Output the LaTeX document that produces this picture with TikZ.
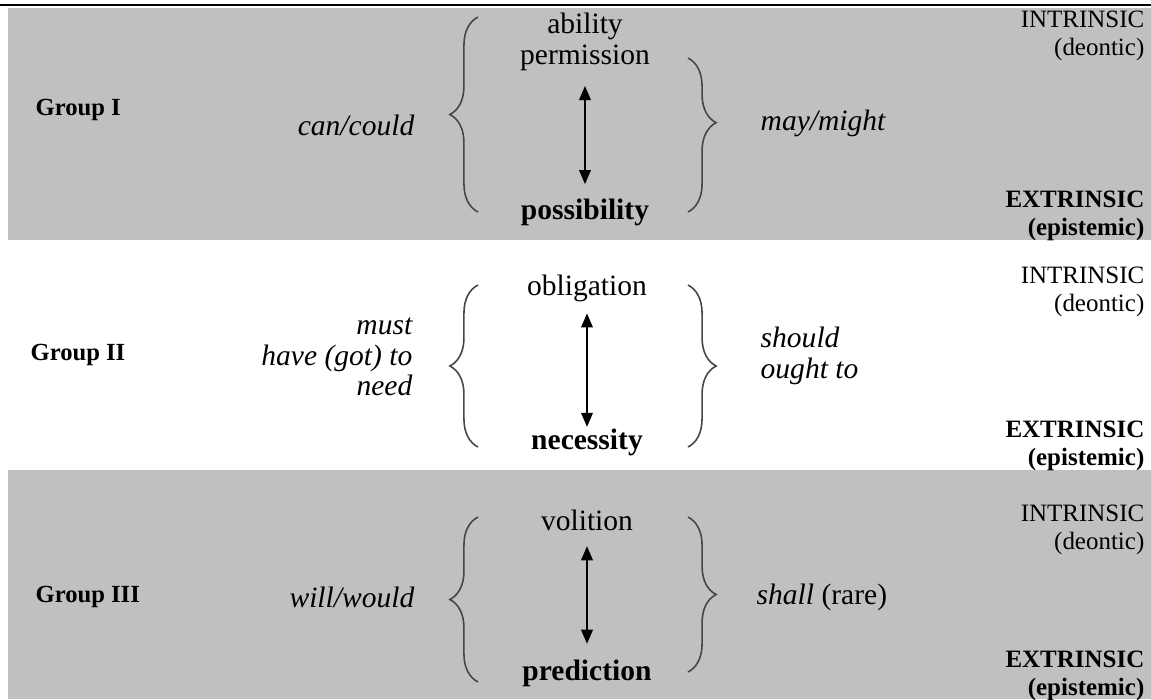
\documentclass[tikz,border=0pt]{standalone}
\usepackage{fontspec}
\setmainfont{Liberation Serif}
\usetikzlibrary{arrows.meta,decorations.pathreplacing}
\definecolor{bandgray}{RGB}{192,192,192}
\definecolor{bracegray}{RGB}{70,70,70}
\tikzset{
  mid/.style={font=\fontsize{8.4}{9}\selectfont, inner sep=0pt, align=center},
  modal/.style={font=\fontsize{8.4}{8.6}\selectfont\itshape, inner sep=0pt},
  grp/.style={font=\fontsize{7}{8}\selectfont\bfseries, inner sep=0pt, anchor=west},
  kind/.style={font=\fontsize{7.1}{8}\selectfont, inner sep=0pt, anchor=east, align=right},
  bracket/.style={decorate, decoration={brace, amplitude=8pt, aspect=#1}, draw=bracegray, line width=0.45pt},
  bracket/.default=0.5,
  updown/.style={{Triangle[length=4pt,width=3.3pt]}-{Triangle[length=4pt,width=3.3pt]}, line width=0.5pt}
}
\begin{document}
\begin{tikzpicture}[x=0.01cm, y=-0.01cm]
      \useasboundingbox (0,0) rectangle (1151,699);
      \fill[bandgray] (8,8) rectangle (1151,240);
      \fill[bandgray] (8,470) rectangle (1151,699);
      \draw[line width=0.8pt] (0,5) -- (1151,5);

      \node[grp] (g1) at (35,110) {Group I};
      \node[modal, anchor=east] (can) at (415,125) {can/could};
      \node[mid] (abil) at (585,42) {ability\\permission};
      \node[mid, font=\fontsize{8.4}{9}\selectfont\bfseries] (poss) at (585,212) {possibility};
      \node[modal, anchor=west] (may) at (760,123) {may/might};
      \node[kind] (in1) at (1145,36) {INTRINSIC\\(deontic)};
      \node[kind, font=\fontsize{7.1}{8}\selectfont\bfseries] (ex1) at (1145,216) {EXTRINSIC\\(epistemic)};

      \node[grp] (g2) at (30,355) {Group II};
      \node[modal, anchor=east, align=right] (must) at (413,357) {must\\have (got) to\\need};
      \node[mid] (obl) at (587,288) {obligation};
      \node[mid, font=\fontsize{8.4}{9}\selectfont\bfseries] (nec) at (587,442) {necessity};
      \node[modal, anchor=west, align=left] (should) at (760,356) {should\\ought to};
      \node[kind] (in2) at (1145,292) {INTRINSIC\\(deontic)};
      \node[kind, font=\fontsize{7.1}{8}\selectfont\bfseries] (ex2) at (1145,446) {EXTRINSIC\\(epistemic)};

      \node[grp] (g3) at (35,597) {Group III};
      \node[modal, anchor=east] (will) at (415,597) {will/would};
      \node[mid] (vol) at (587,520) {volition};
      \node[mid, font=\fontsize{8.4}{9}\selectfont\bfseries] (pred) at (587,673) {prediction};
      \node[modal, anchor=west] (shall) at (756,597) {shall \upshape(rare)};
      \node[kind] (in3) at (1145,530) {INTRINSIC\\(deontic)};
      \node[kind, font=\fontsize{7.1}{8}\selectfont\bfseries] (ex3) at (1145,676) {EXTRINSIC\\(epistemic)};

      \begin{scope}[updown]
        \draw[shorten <=4pt, shorten >=3.9pt] (abil.south) to (poss.north);
        \draw[shorten <=3.2pt, shorten >=0.3pt] (obl.south) to (nec.north);
        \draw[shorten <=4.3pt, shorten >=4.3pt] (vol.south) to (pred.north);
      \end{scope}

      \draw[bracket] (478,212) -- (478,17);
      \draw[bracket=0.42] (688,58) -- (688,212);
      \draw[bracket] (478,447) -- (478,285);
      \draw[bracket] (688,285) -- (688,447);
      \draw[bracket] (478,682) -- (478,517);
      \draw[bracket] (688,517) -- (688,672);
    \end{tikzpicture}
\end{document}
